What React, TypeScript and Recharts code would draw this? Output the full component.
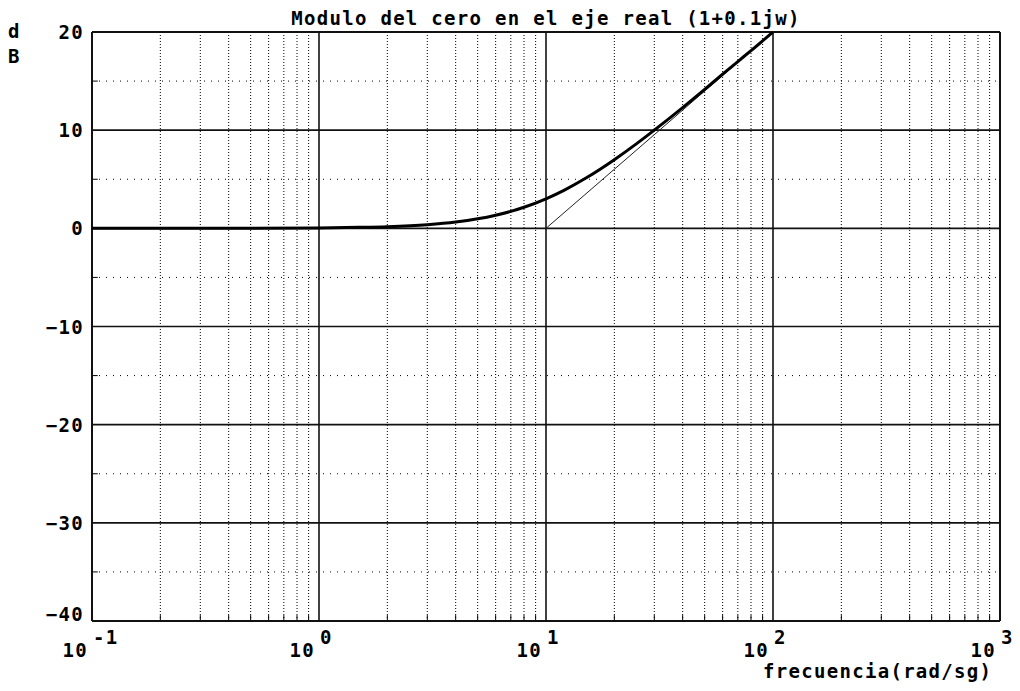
import React from 'react';
import { LineChart, Line, XAxis, YAxis, ReferenceLine } from 'recharts';

// magnitude of the real-axis zero (1 + 0.1jw)
const freq = [0.1, 0.2, 0.5, 1, 1.5, 2, 3, 4, 5, 6, 7, 8, 10, 12, 15, 20, 25, 30, 40, 50, 60, 70, 80, 100];
const magDb = [0, 0, 0.01, 0.04, 0.1, 0.17, 0.37, 0.64, 0.97, 1.34, 1.73, 2.15, 3.01, 3.87, 5.12, 6.99, 8.6, 10.0, 12.3, 14.15, 15.7, 16.99, 18.1, 20.0];

// asymptote
const asymFreq = [10, 100];
const asymDb = [0, 20];

const decadeTicks = [0.1, 1, 10, 100, 1000];
const decadeExp = ['-1', '0', '1', '2', '3'];
const majorFreq = [1, 10, 100];
const minorFreq = [
  0.2, 0.3, 0.4, 0.5, 0.6, 0.7, 0.8, 0.9,
  2, 3, 4, 5, 6, 7, 8, 9,
  20, 30, 40, 50, 60, 70, 80, 90,
  200, 300, 400, 500, 600, 700, 800, 900,
];
const dbTicks = [-40, -30, -20, -10, 0, 10, 20];
const majorDb = [-30, -20, -10, 0, 10];
const minorDb = [-35, -25, -15, -5, 5, 15];

const TITLE = 'Modulo del cero en el eje real (1+0.1jw)';
const XLABEL = 'frecuencia(rad/sg)';
const YLABEL = ['d', 'B'];

const FONT = '"DejaVu Sans Mono", "Liberation Mono", monospace';
const FS = 19;
const LS = 1.3;

const curveData = freq.map((w, i) => ({ w, db: magDb[i] }));
const asymData = asymFreq.map((w, i) => ({ w, a: asymDb[i] }));

const XTick = (props: any) => {
  const { x, y, payload } = props;
  const idx = decadeTicks.indexOf(payload.value);
  const exp = idx >= 0 ? decadeExp[idx] : '';
  return (
    <g fontFamily={FONT} fontSize={FS} fontWeight="bold" fill="#000">
      <text x={x - 4} y={y + 36} textAnchor="end" letterSpacing={LS}>10</text>
      <text x={x + 1} y={y + 23} textAnchor="start" letterSpacing={LS}>{exp}</text>
    </g>
  );
};

const YTick = (props: any) => {
  const { x, y, payload } = props;
  const dy = payload.value === -40 ? 0 : 7;
  return (
    <text x={x - 8} y={y + dy} textAnchor="end" fontFamily={FONT} fontSize={FS} fontWeight="bold" fill="#000" letterSpacing={LS}>
      {payload.value === 0 ? '0' : String(payload.value).replace('-', '\u2212')}
    </text>
  );
};

export default function App() {
  return (
    <div style={{ position: 'absolute', left: 0, top: 0, width: 1020, height: 691, background: '#fff' }}>
      <LineChart width={1020} height={691} margin={{ top: 32, right: 20, bottom: 20, left: 0 }}>
        <XAxis
          dataKey="w"
          type="number"
          scale="log"
          domain={[0.1, 1000]}
          ticks={decadeTicks}
          allowDataOverflow
          axisLine={false}
          tickLine={false}
          tickSize={0}
          tickMargin={0}
          height={50}
          tick={<XTick />}
          interval={0}
        />
        <YAxis
          type="number"
          domain={[-40, 20]}
          ticks={dbTicks}
          allowDataOverflow
          axisLine={false}
          tickLine={false}
          tickSize={0}
          tickMargin={0}
          width={92}
          tick={<YTick />}
          interval={0}
        />
        {minorFreq.map((v) => (
          <ReferenceLine key={'mx' + v} x={v} stroke="#000" strokeWidth={1} strokeDasharray="1 2" />
        ))}
        {minorDb.map((v) => (
          <ReferenceLine key={'my' + v} y={v} stroke="#000" strokeWidth={1} strokeDasharray="1 6" />
        ))}
        {minorFreq.map((v) => (
          <ReferenceLine key={'tx' + v} segment={[{ x: v, y: -40 }, { x: v, y: -39.4 }]} stroke="#000" strokeWidth={1} />
        ))}
        {minorDb.map((v) => (
          <ReferenceLine key={'ty' + v} segment={[{ x: 0.1, y: v }, { x: 0.106, y: v }]} stroke="#000" strokeWidth={1} />
        ))}
        {majorFreq.map((v) => (
          <ReferenceLine key={'Mx' + v} x={v} stroke="#111" strokeWidth={1.6} />
        ))}
        {majorDb.map((v) => (
          <ReferenceLine key={'My' + v} y={v} stroke="#111" strokeWidth={1.6} />
        ))}
        <ReferenceLine x={0.1} stroke="#111" strokeWidth={2} />
        <ReferenceLine x={1000} stroke="#111" strokeWidth={2} />
        <ReferenceLine y={20} stroke="#111" strokeWidth={2} />
        <ReferenceLine y={-40} stroke="#111" strokeWidth={2} />
        <Line data={asymData} dataKey="a" type="linear" stroke="#222" strokeWidth={1} dot={false} isAnimationActive={false} />
        <Line data={curveData} dataKey="db" type="monotone" stroke="#000" strokeWidth={3} dot={false} isAnimationActive={false} />
      </LineChart>
      <svg width={1020} height={691} style={{ position: 'absolute', left: 0, top: 0, pointerEvents: 'none' }}>
        <g fontFamily={FONT} fontSize={FS} fontWeight="bold" fill="#000" letterSpacing={LS}>
          <text x={546} y={25} textAnchor="middle">{TITLE}</text>
          <text x={8} y={38}>{YLABEL[0]}</text>
          <text x={8} y={63}>{YLABEL[1]}</text>
          <text x={763} y={678}>{XLABEL}</text>
        </g>
      </svg>
    </div>
  );
}
